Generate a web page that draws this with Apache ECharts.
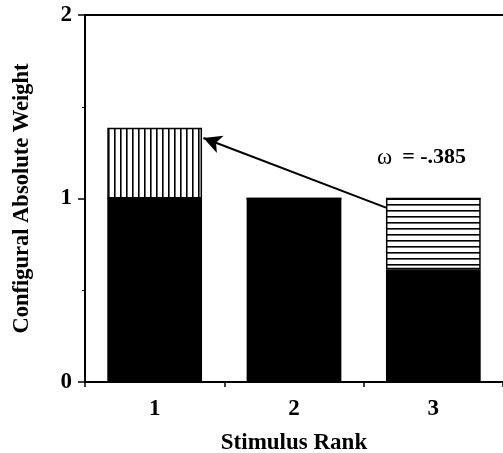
<!DOCTYPE html>
<html>
<head>
<meta charset="utf-8">
<script src="https://cdn.jsdelivr.net/npm/echarts@6/dist/echarts.min.js"></script>
<style>html,body{margin:0;padding:0;background:#fff;}#c{width:503px;height:453px;}</style>
</head>
<body>
<div id="c"></div>
<script>
const categories = ['1', '2', '3'];
const baseWeights = [1.0, 1.0, 0.615];
const upperWeights = [0.385, 0, 0];      // vertical-hatched segment (rank 1)
const lowerHatchWeights = [0, 0, 0.385]; // horizontal-hatched segment (rank 3)
const yTicks = [0, 1, 2];
const omegaText = '-.385';
// arrow from rank-3 bar (hatched part) to the top of rank-1 bar, in data units
const arrowFrom = [1.66, 0.95];
const arrowTo = [0.35, 1.33];

function stripes(vertical) {
  const c = document.createElement('canvas');
  c.width = 6; c.height = 6;
  const g = c.getContext('2d');
  g.fillStyle = '#fff'; g.fillRect(0, 0, 6, 6);
  g.fillStyle = '#000';
  if (vertical) g.fillRect(0, 0, 1.6, 6); else g.fillRect(0, 0, 6, 1.6);
  return c;
}

const serif = '"Liberation Serif", "DejaVu Serif", serif';
const chart = echarts.init(document.getElementById('c'));
chart.setOption({
  animation: false,
  backgroundColor: '#fff',
  grid: { left: 85, right: 0, top: 15, bottom: 71, containLabel: false, outerBoundsMode: 'none' },
  xAxis: [{
    type: 'category', data: categories,
    axisLine: { lineStyle: { color: '#000', width: 2 } },
    axisTick: { show: true, length: 5, lineStyle: { color: '#000', width: 1.5 } },
    axisLabel: { color: '#000', fontFamily: serif, fontWeight: 'bold', fontSize: 23, margin: 16 },
    name: 'Stimulus Rank', nameLocation: 'middle', nameGap: 50,
    nameTextStyle: { color: '#000', fontFamily: serif, fontWeight: 'bold', fontSize: 23 }
  }, {
    type: 'value', min: -0.5, max: 2.5, show: false
  }, {
    type: 'category', data: categories, position: 'top',
    axisLine: { show: true, onZero: false, lineStyle: { color: '#000', width: 2 } },
    axisTick: { show: false }, axisLabel: { show: false }
  }],
  yAxis: {
    type: 'value', min: yTicks[0], max: yTicks[yTicks.length - 1], interval: 1,
    splitLine: { show: false },
    axisLine: { show: true, onZero: false, lineStyle: { color: '#000', width: 2 } },
    axisTick: { show: true, length: 7, lineStyle: { color: '#000', width: 1.5 } },
    minorTick: { show: true, splitNumber: 2, length: 3, lineStyle: { color: '#000', width: 1 } },
    axisLabel: { color: '#000', fontFamily: serif, fontWeight: 'bold', fontSize: 23, margin: 13 },
    name: 'Configural Absolute Weight', nameLocation: 'middle', nameGap: 51,
    nameTextStyle: { color: '#000', fontFamily: serif, fontWeight: 'bold', fontSize: 22.5 }
  },
  series: [
    {
      type: 'bar', stack: 'w', data: baseWeights, barWidth: '68%',
      itemStyle: { color: '#000' }
    },
    {
      type: 'bar', stack: 'w', data: lowerHatchWeights,
      itemStyle: { color: { image: stripes(false), repeat: 'repeat' }, borderColor: '#000', borderWidth: 1.5 }
    },
    {
      type: 'bar', stack: 'w', data: upperWeights,
      itemStyle: { color: { image: stripes(true), repeat: 'repeat' }, borderColor: '#000', borderWidth: 1.5 }
    },
    {
      type: 'line', xAxisIndex: 1, data: [], silent: true,
      markLine: {
        silent: true, animation: false,
        symbol: ['none', 'arrow'], symbolSize: [14, 18],
        lineStyle: { color: '#000', width: 2, type: 'solid' },
        label: { show: false },
        data: [[{ coord: arrowFrom }, { coord: arrowTo }]]
      }
    }
  ],
  graphic: [{
    type: 'text', left: 377, top: 146,
    style: {
      text: '{w|ω}   {v|= ' + omegaText + '}',
      rich: {
        w: { fontFamily: serif, fontSize: 23, fill: '#000' },
        v: { fontFamily: serif, fontWeight: 'bold', fontSize: 22, fill: '#000' }
      }
    }
  }]
});
</script>
</body>
</html>
